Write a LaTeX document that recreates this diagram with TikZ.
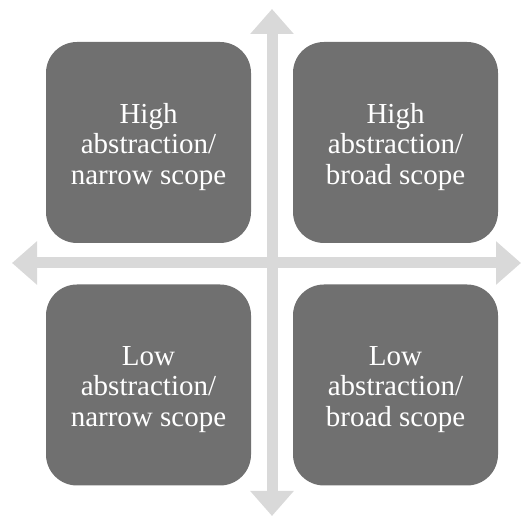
\documentclass[tikz,border=0pt]{standalone}
\usepackage{fontspec}
\setmainfont{Liberation Serif}
\usetikzlibrary{arrows.meta}
\definecolor{boxgray}{RGB}{112,112,112}
\definecolor{axisgray}{RGB}{217,217,217}
\begin{document}
\begin{tikzpicture}[x=1pt,y=1pt,
  quad/.style={fill=boxgray,rounded corners=31pt,minimum width=205pt,minimum height=201pt,inner sep=0pt},
  qtext/.style={text=white,align=center,inner sep=0pt,font=\fontsize{29}{30.5}\selectfont},
  axis/.style={axisgray,line width=11pt,
    {Triangle[width=42pt,length=25pt]}-{Triangle[width=42pt,length=25pt]}}]
  \useasboundingbox (0,0) rectangle (523,517);
  % axes
  \coordinate (top) at (272,508);
  \coordinate (bottom) at (272,1);
  \coordinate (left) at (12,254);
  \coordinate (right) at (521,254);
  \draw[axis] (bottom)--(top);
  \draw[axis] (left)--(right);
  % quadrants
  \node[quad] (hn) at (148.5,374.5) {};
  \node[quad] (hb) at (395.5,374.5) {};
  \node[quad] (ln) at (148.5,132) {};
  \node[quad] (lb) at (395.5,132) {};
  \node[qtext] at ([yshift=-4.5pt]hn.center) {High\\abstraction/\\narrow scope};
  \node[qtext] at ([yshift=-4.5pt]hb.center) {High\\abstraction/\\broad scope};
  \node[qtext] at ([yshift=-4.5pt]ln.center) {Low\\abstraction/\\narrow scope};
  \node[qtext] at ([yshift=-4.5pt]lb.center) {Low\\abstraction/\\broad scope};
\end{tikzpicture}
\end{document}
